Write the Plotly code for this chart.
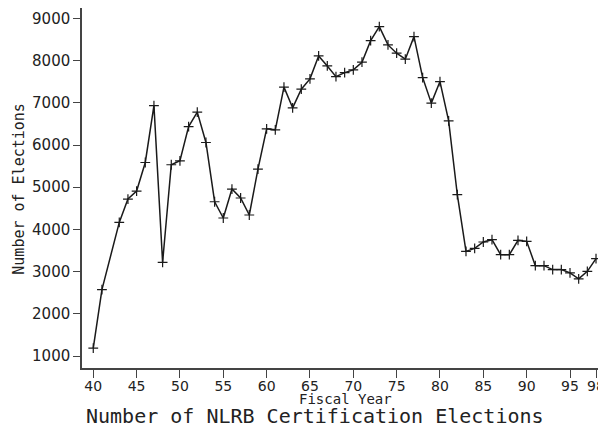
import plotly.graph_objects as go

years = [40, 41, 43, 44, 45, 46, 47, 48, 49, 50, 51, 52, 53, 54, 55, 56, 57, 58, 59,
         60, 61, 62, 63, 64, 65, 66, 67, 68, 69, 70, 71, 72, 73, 74, 75, 76, 77, 78, 79,
         80, 81, 82, 83, 84, 85, 86, 87, 88, 89, 90, 91, 92, 93, 94, 95, 96, 97, 98]
elections = [1190, 2577, 4168, 4721, 4910, 5586, 6934, 3222, 5532, 5626, 6437, 6778, 6059,
             4657, 4272, 4957, 4745, 4343, 5430, 6383, 6359, 7369, 6880, 7322, 7565, 8109,
             7872, 7619, 7714, 7778, 7960, 8470, 8801, 8369, 8173, 8031, 8565, 7596, 6991,
             7501, 6572, 4823, 3482, 3553, 3704, 3759, 3404, 3404, 3742, 3719, 3144, 3144,
             3050, 3050, 2972, 2830, 3009, 3310]

x_ticks = [40, 45, 50, 55, 60, 65, 70, 75, 80, 85, 90, 95, 98]
y_ticks = [1000, 2000, 3000, 4000, 5000, 6000, 7000, 8000, 9000]

title_text = "Number of NLRB Certification Elections"
x_title = "Fiscal Year"
y_title = "Number of Elections"

fig = go.Figure()
fig.add_trace(go.Scatter(
    x=years, y=elections, mode="lines+markers",
    line=dict(color="#1a1a1a", width=1.5),
    marker=dict(symbol="cross-thin", size=7, line=dict(color="#1a1a1a", width=1.2)),
    showlegend=False, cliponaxis=False,
))

mono = "DejaVu Sans Mono"
fig.update_layout(
    width=590, height=418,
    margin=dict(l=74, r=0, t=0, b=57.5, autoexpand=False),
    paper_bgcolor="white", plot_bgcolor="white",
    xaxis=dict(
        range=[38.70, 98.23], tickvals=x_ticks, ticktext=[str(v) for v in x_ticks],
        showgrid=False, zeroline=False, showline=True, linecolor="#444", linewidth=1.5,
        ticks="outside", ticklen=8, tickwidth=1.3, tickcolor="#444",
        tickfont=dict(family="DejaVu Sans", size=14, color="#222"),
        automargin=False, ticklabeloverflow="allow", ticklabelstandoff=-4,
    ),
    yaxis=dict(
        range=[721, 9243], tickvals=y_ticks, ticktext=[str(v) for v in y_ticks],
        showgrid=False, zeroline=False, showline=True, linecolor="#444", linewidth=1.5,
        ticks="outside", ticklen=7, tickwidth=1.3, tickcolor="#444",
        tickfont=dict(family="DejaVu Sans", size=15, color="#222"),
        automargin=False, ticklabeloverflow="allow",
    ),
    annotations=[
        dict(text=x_title, xref="paper", yref="paper", x=0.5097, y=-0.0874,
             xanchor="center", yanchor="middle", showarrow=False,
             font=dict(family=mono, size=14, color="#222")),
        dict(text=title_text, xref="paper", yref="paper", x=0.4516, y=-0.1345,
             xanchor="center", yanchor="middle", showarrow=False,
             font=dict(family=mono, size=20, color="#222")),
        dict(text=y_title, xref="paper", yref="paper", x=-0.1221, y=0.498,
             xanchor="center", yanchor="middle", showarrow=False, textangle=-90,
             font=dict(family=mono, size=15, color="#222")),
    ],
)

fig.write_html("out.html")
